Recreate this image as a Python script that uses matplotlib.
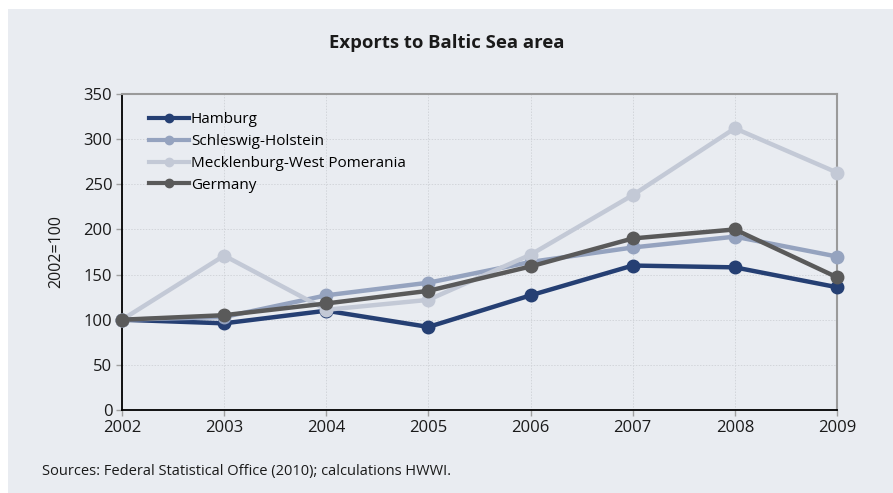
import matplotlib.pyplot as plt
from matplotlib.patches import Rectangle

plt.rcParams['font.family'] = ['Open Sans', 'DejaVu Sans']

years = [2002, 2003, 2004, 2005, 2006, 2007, 2008, 2009]
hamburg = [100, 96, 110, 92, 127, 160, 158, 136]
schleswig = [100, 103, 127, 141, 164, 180, 192, 170]
mecklenburg = [100, 171, 111, 122, 172, 238, 312, 263]
germany = [100, 105, 118, 132, 159, 190, 200, 147]

series = [
    ('Hamburg', hamburg, '#253f73'),
    ('Schleswig-Holstein', schleswig, '#95a3bf'),
    ('Mecklenburg-West Pomerania', mecklenburg, '#c3c9d6'),
    ('Germany', germany, '#5a5a5a'),
]
draw_order = [2, 1, 0, 3]

bg = '#e9ecf1'
fig = plt.figure(figsize=(8.93, 4.93), dpi=100)
fig.patch.set_facecolor('white')
fig.patches.append(Rectangle((8 / 893, 0), 1, 1 - 9 / 493, transform=fig.transFigure,
                             facecolor=bg, edgecolor='none', zorder=-10))

ax = fig.add_axes([122 / 893, 1 - 410 / 493, (837 - 122) / 893, (410 - 94) / 493])
ax.set_facecolor(bg)

lines = {}
for i in draw_order:
    name, vals, col = series[i]
    ln, = ax.plot(years, vals, color=col, lw=3.2, marker='o', ms=9,
                  label=name, clip_on=False, zorder=3 + i * 0.1)
    lines[i] = ln

ax.set_xlim(2002, 2009)
ax.set_ylim(0, 350)
ax.set_xticks(years)
ax.set_yticks(range(0, 351, 50))
ax.tick_params(axis='both', labelsize=12, color='#a0a0a0', length=4, width=1,
               labelcolor='#1a1a1a')
ax.tick_params(axis='x', pad=3)
ax.tick_params(axis='y', pad=3)
ax.grid(True, color='#d2d5da', lw=0.7, ls=(0, (1.5, 1.5)))
ax.set_axisbelow(True)

for s in ['top', 'right']:
    ax.spines[s].set_color('#9a9a9a')
    ax.spines[s].set_linewidth(1.5)
for s in ['left', 'bottom']:
    ax.spines[s].set_color('black')
    ax.spines[s].set_linewidth(1.3)

ax.set_ylabel('2002=100', fontsize=11.5, labelpad=14, color='#1a1a1a')

leg = ax.legend([lines[i] for i in range(4)], [s[0] for s in series],
                loc='upper left', bbox_to_anchor=(0.029, 0.962), frameon=False,
                fontsize=11, handlelength=2.6, handletextpad=0.15,
                labelspacing=0.45, borderaxespad=0)
for h in leg.legend_handles:
    h.set_markersize(6)
    h.set_linewidth(3)

fig.text(0.5, 1 - 43 / 493, 'Exports to Baltic Sea area', ha='center', va='center',
         fontsize=13.3, fontweight='bold', color='#1a1a1a')
fig.text(42 / 893, 1 - 471 / 493, 'Sources: Federal Statistical Office (2010); calculations HWWI.',
         ha='left', va='center', fontsize=10.5, color='#1a1a1a')

fig.savefig('out.png', dpi=100, facecolor=fig.get_facecolor())
